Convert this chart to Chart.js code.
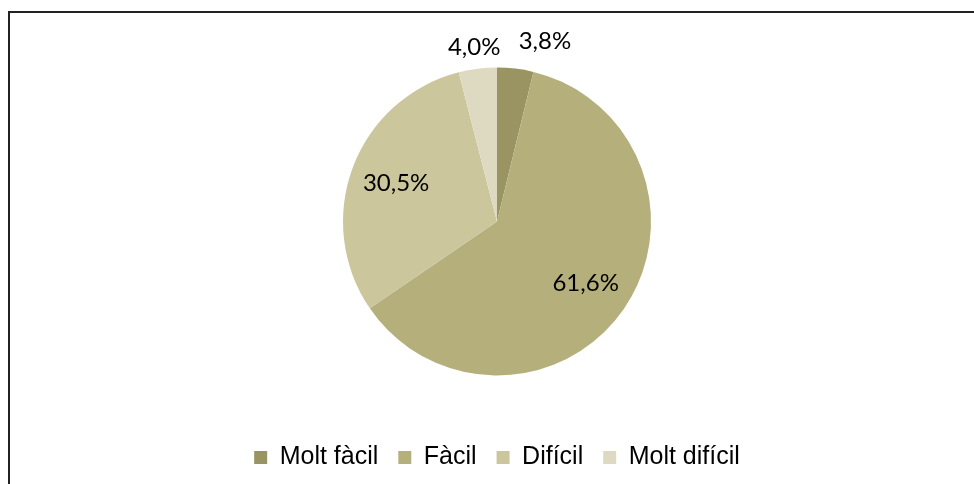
<!DOCTYPE html>
<html>
<head>
<meta charset="utf-8">
<script src="https://cdn.jsdelivr.net/npm/chart.js@4/dist/chart.umd.min.js"></script>
<style>
  html, body { margin: 0; padding: 0; background: #fff; }
  #wrap { width: 974px; height: 484px; }
</style>
</head>
<body>
<div id="wrap"><canvas id="pieChart" width="974" height="484"></canvas></div>
<script>
  // Pie chart data
  var categories = ["Molt fàcil", "Fàcil", "Difícil", "Molt difícil"];
  var percentages = [3.8, 61.6, 30.5, 4.0];
  var sliceColors = ["#9a9463", "#b5b07b", "#cbc69c", "#dedac2"];

  // frame round the chart (top and left edge visible)
  var framePlugin = {
    id: 'frame',
    beforeDraw: function (chart) {
      var c = chart.ctx;
      c.save();
      c.fillStyle = '#fff';
      c.fillRect(0, 0, chart.width, chart.height);
      c.strokeStyle = '#222';
      c.lineWidth = 2;
      c.beginPath();
      c.moveTo(9, chart.height);
      c.lineTo(9, 12);
      c.lineTo(chart.width, 12);
      c.stroke();
      c.restore();
    }
  };

  // percentage labels, small slices go outside
  var labelPlugin = {
    id: 'sliceLabels',
    afterDatasetsDraw: function (chart) {
      var c = chart.ctx;
      var meta = chart.getDatasetMeta(0);
      c.save();
      c.font = '24px Lato, "Open Sans", sans-serif';
      c.fillStyle = '#000';
      c.textBaseline = 'middle';
      c.textAlign = 'center';
      meta.data.forEach(function (arc, i) {
        var v = percentages[i];
        var mid = (arc.startAngle + arc.endAngle) / 2;
        var txt = v.toFixed(1).replace('.', ',') + '%';
        var r, x, y;
        if (v < 10) {
          r = arc.outerRadius * 1.18;
          x = arc.x + Math.cos(mid) * r;
          y = arc.y + Math.sin(mid) * r;
          if (Math.cos(mid) > 0) x += c.measureText(txt).width / 2;
          else y += 6;
        } else {
          r = arc.outerRadius * 0.7;
          x = arc.x + Math.cos(mid) * r;
          y = arc.y + Math.sin(mid) * r;
        }
        c.fillText(txt, x, y);
      });
      c.restore();
    }
  };

  var ctx = document.getElementById('pieChart').getContext('2d');
  var myChart = new Chart(ctx, {
    type: 'pie',
    data: {
      labels: categories,
      datasets: [
        {
          data: percentages,
          backgroundColor: sliceColors,
          borderWidth: 0,
          radius: 154
        }
      ]
    },
    options: {
      responsive: false,
      animation: false,
      layout: { padding: { top: 18, bottom: 4, left: 20, right: 0 } },
      plugins: {
        tooltip: { enabled: false },
        legend: {
          display: true,
          position: 'bottom',
          labels: {
            boxWidth: 13,
            boxHeight: 13,
            padding: 20,
            color: '#000',
            font: { family: '"Liberation Sans", Arial, sans-serif', size: 25 }
          }
        }
      }
    },
    plugins: [framePlugin, labelPlugin]
  });
</script>
</body>
</html>
